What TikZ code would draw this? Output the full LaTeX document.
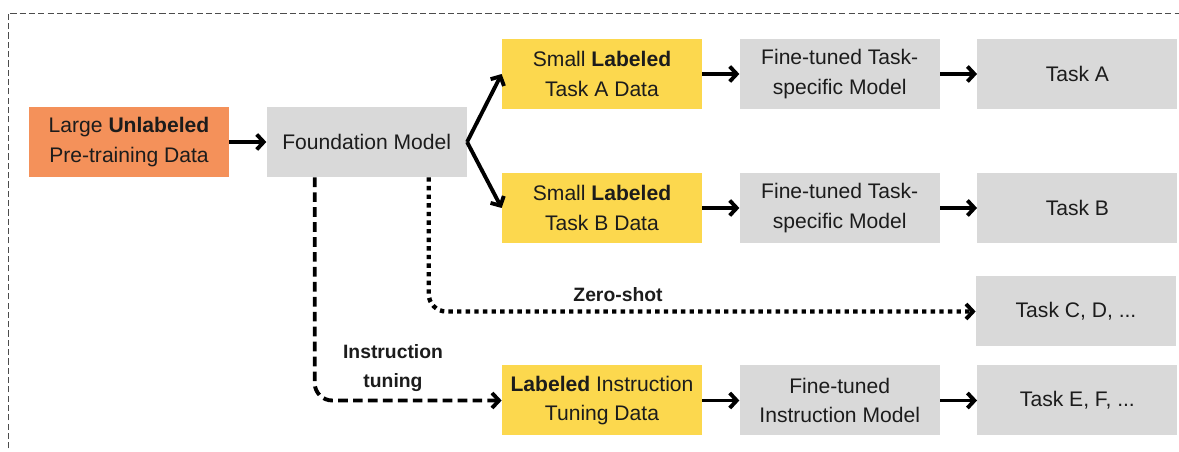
\documentclass[tikz,border=0pt]{standalone}
\usepackage{fontspec}
\setmainfont{Liberation Sans}
\usepackage{tikz}
\usetikzlibrary{arrows.meta, positioning}
\definecolor{boxgray}{HTML}{D9D9D9}
\definecolor{preorange}{HTML}{F4915A}
\definecolor{datayellow}{HTML}{FCD84E}
\definecolor{txt}{HTML}{1C1C1C}
\tikzset{
    box/.style={rectangle, minimum width=4cm, minimum height=1.4cm, align=center, text=txt, font=\fontsize{12}{17}\selectfont},
    model/.style={box, fill=boxgray},
    data/.style={box, fill=datayellow},
    pretrain/.style={box, fill=preorange},
    arrow/.style={line width=2.2pt, -{Straight Barb[length=1.4mm, width=3mm, line width=2.2pt]}},
    lbl/.style={font=\bfseries\fontsize{11}{17}\selectfont, text=txt, align=center}
}

\begin{document}
\begin{tikzpicture}[node distance=0.74cm, line join=round]
        \useasboundingbox (0,0) rectangle (23.58, 9.04);
        % Outer frame (only top and left edges show)
        \draw[gray!60!black, thin, dash pattern=on 3.5pt off 1.8pt] (0.16, -0.3) -- (0.16, 8.78) -- (23.9, 8.78);

        % Pre-training and foundation model
        \node[pretrain] (pre) at (2.58, 6.2) {Large \textbf{Unlabeled}\\Pre-training Data};
        \node[model, right=of pre] (fm) {Foundation Model};

        % Row A
        \node[data] (dataA) at (12.04, 7.56) {Small \textbf{Labeled}\\Task A Data};
        \node[model, right=of dataA] (ftA) {Fine-tuned Task-\\specific Model};
        \node[model, right=of ftA] (taskA) {Task A};

        % Row B
        \node[data] (dataB) at (12.04, 4.88) {Small \textbf{Labeled}\\Task B Data};
        \node[model, right=of dataB] (ftB) {Fine-tuned Task-\\specific Model};
        \node[model, right=of ftB] (taskB) {Task B};

        % Zero-shot target
        \node[model] (taskC) at (21.52, 2.81) {Task C, D, ...};

        % Instruction tuning row
        \node[data] (instr) at (12.04, 1.03) {\textbf{Labeled} Instruction\\Tuning Data};
        \node[model, right=of instr] (ftI) {Fine-tuned\\Instruction Model};
        \node[model, right=of ftI] (taskE) {Task E, F, ...};

        % Labels
        \node[lbl] (zs) at (12.36, 3.14) {Zero-shot};
        \node[lbl] (it) at (7.86, 1.68) {Instruction\\tuning};

        % Connectors
        \draw[arrow] (pre) -- (fm);
        \draw[arrow] (fm.east) -- (dataA.west);
        \draw[arrow] (fm.east) -- (dataB.west);
        \draw[arrow] (dataA) -- (ftA);
        \draw[arrow] (ftA) -- (taskA);
        \draw[arrow] (dataB) -- (ftB);
        \draw[arrow] (ftB) -- (taskB);
        \draw[arrow] (instr) -- (ftI);
        \draw[arrow] (ftI) -- (taskE);
        \draw[arrow, line width=2.5pt, dash pattern=on 2.5pt off 2.4pt, rounded corners=0.35cm] ([xshift=1.24cm]fm.south) |- (taskC.west);
        \draw[arrow, dash pattern=on 5.5pt off 3pt, rounded corners=0.35cm] ([xshift=-1.04cm]fm.south) |- (instr.west);

    \end{tikzpicture}
\end{document}
